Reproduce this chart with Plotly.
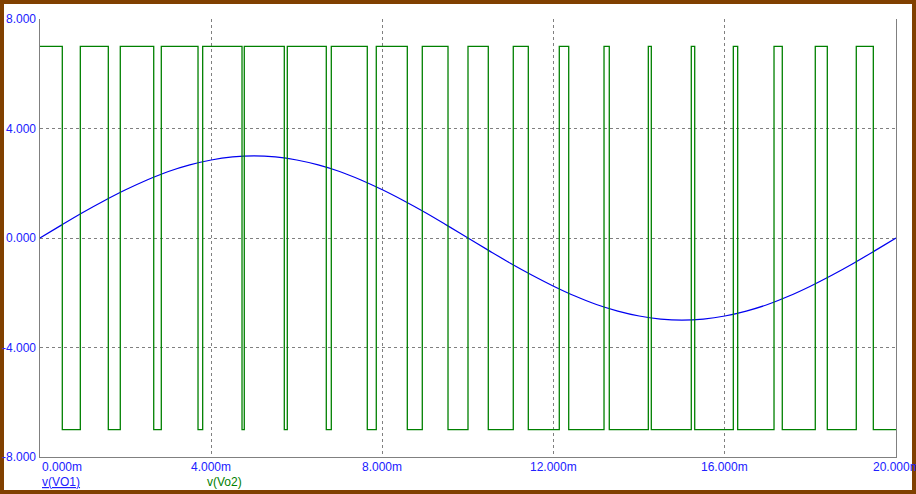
import plotly.graph_objects as go

# ---------------- data ----------------
# v(VO1): sine-like output, sampled every 0.5 ms (values read from the picture)
vo1_t = [0.0, 0.5, 1.0, 1.5, 2.0, 2.5, 3.0, 3.5, 4.0, 4.5, 5.0, 5.5, 6.0, 6.5, 7.0, 7.5,
         8.0, 8.5, 9.0, 9.5, 10.0, 10.5, 11.0, 11.5, 12.0, 12.5, 13.0, 13.5, 14.0, 14.5,
         15.0, 15.5, 16.0, 16.5, 17.0, 17.5, 18.0, 18.5, 19.0, 19.5, 20.0]
vo1_v = [0.00, 0.47, 0.93, 1.36, 1.76, 2.12, 2.43, 2.67, 2.85, 2.96, 3.00, 2.96, 2.85,
         2.67, 2.43, 2.12, 1.76, 1.36, 0.93, 0.47, 0.00, -0.47, -0.93, -1.36, -1.76,
         -2.12, -2.43, -2.67, -2.85, -2.96, -3.00, -2.96, -2.85, -2.67, -2.43, -2.12,
         -1.76, -1.36, -0.93, -0.47, 0.00]

# v(Vo2): PWM square wave, switching instants (ms) and level held after each instant
vo2_t = [0.0, 0.521, 0.942, 1.596, 1.876, 2.657, 2.834, 3.692, 3.801, 4.720, 4.773,
         5.708, 5.778, 6.689, 6.806, 7.647, 7.857, 8.582, 8.932, 9.533, 10.000, 10.474,
         11.058, 11.409, 12.133, 12.353, 13.178, 13.301, 14.213, 14.283, 15.217, 15.297,
         16.199, 16.301, 17.150, 17.343, 18.114, 18.395, 19.072, 19.470, 20.0]
vo2_v = [7, -7, 7, -7, 7, -7, 7, -7, 7, -7, 7, -7, 7, -7, 7, -7, 7, -7, 7, -7, 7, -7,
         7, -7, 7, -7, 7, -7, 7, -7, 7, -7, 7, -7, 7, -7, 7, -7, 7, -7, -7]

x_ticks = [0, 4, 8, 12, 16, 20]
x_tick_text = ["0.000m", "4.000m", "8.000m", "12.000m", "16.000m", "20.000m"]
y_ticks = [8, 4, 0, -4, -8]
y_tick_text = ["8.000", "4.000", "0.000", "-4.000", "-8.000"]

legend_names = ["v(VO1)", "v(Vo2)"]

# ---------------- style ----------------
BLUE = "#0000f0"
GREEN = "#008000"
LABEL_BLUE = "#2020ff"
GRID = "#808080"
FONT = "Liberation Sans, Arial, sans-serif"

W, H = 916, 494
ML, MR, MT, MB = 40, 20, 19, 37
PW, PH = W - ML - MR, H - MT - MB

fig = go.Figure()
fig.add_trace(go.Scatter(x=vo1_t, y=vo1_v, mode="lines", name=legend_names[0],
                         line=dict(color=BLUE, width=1.2, shape="spline")))
fig.add_trace(go.Scatter(x=vo2_t, y=vo2_v, mode="lines", name=legend_names[1],
                         line=dict(color=GREEN, width=1.3, shape="hv")))

annotations = []
for v, t in zip(x_ticks, x_tick_text):
    annotations.append(dict(x=v, y=0, xref="x", yref="paper", text=t, showarrow=False,
                            xanchor="left" if v == x_ticks[0] else "center",
                            yanchor="top", yshift=-1,
                            font=dict(family=FONT, size=12, color=LABEL_BLUE)))
for v, t in zip(y_ticks, y_tick_text):
    annotations.append(dict(x=0, y=v, xref="paper", yref="y", text=t, showarrow=False,
                            xanchor="right", yanchor="middle", xshift=-2,
                            font=dict(family=FONT, size=12, color=LABEL_BLUE)))
# legend-like captions
annotations.append(dict(x=0, y=0, xref="x", yref="paper", text="<u>" + legend_names[0] + "</u>",
                        showarrow=False, xanchor="left", yanchor="middle", yshift=-25,
                        font=dict(family=FONT, size=12, color=LABEL_BLUE)))
annotations.append(dict(x=3.85, y=0, xref="x", yref="paper", text=legend_names[1],
                        showarrow=False, xanchor="left", yanchor="middle", yshift=-25,
                        font=dict(family=FONT, size=12, color=GREEN)))

fig.update_layout(
    width=W, height=H,
    margin=dict(l=ML, r=MR, t=MT, b=MB, pad=0),
    paper_bgcolor="white", plot_bgcolor="white",
    showlegend=False,
    font=dict(family=FONT, size=12),
    annotations=annotations,
    shapes=[dict(type="rect", xref="paper", yref="paper",
                 x0=(2 - ML) / PW, x1=(W - 2 - ML) / PW,
                 y0=(MT + PH - (H - 2)) / PH, y1=(MT + PH - 2) / PH,
                 line=dict(color="#804000", width=4), fillcolor="rgba(0,0,0,0)",
                 layer="above")],
)
fig.update_xaxes(range=[0, 20], tickvals=x_ticks, showticklabels=False, ticks="",
                 showgrid=True, gridcolor=GRID, gridwidth=1, griddash="3px,3px",
                 showline=True, linecolor=GRID, linewidth=1, mirror=False,
                 zeroline=False, fixedrange=True)
fig.update_yaxes(range=[-8, 8], tickvals=y_ticks, showticklabels=False, ticks="",
                 showgrid=True, gridcolor=GRID, gridwidth=1, griddash="3px,3px",
                 showline=True, linecolor=GRID, linewidth=1, mirror=True,
                 zeroline=False, fixedrange=True)

fig.write_html("out.html", config={"displayModeBar": False},
               post_script="document.body.style.margin='0';document.body.style.overflow='hidden';")
